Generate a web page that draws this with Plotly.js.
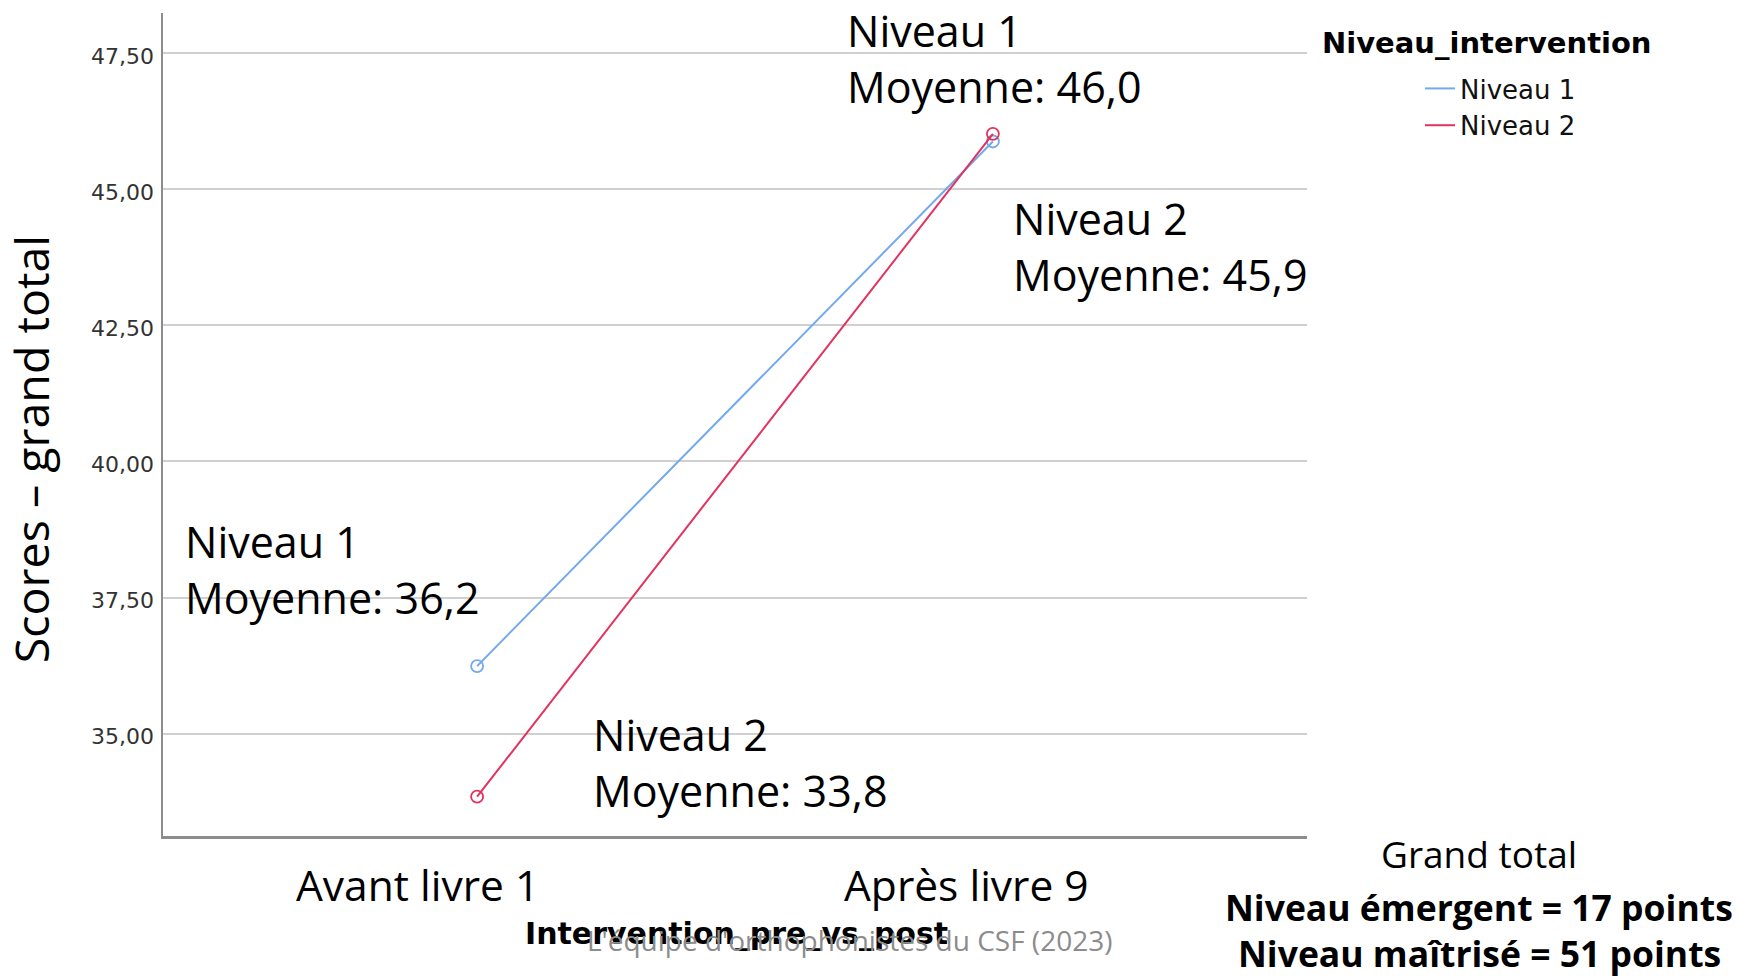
<!DOCTYPE html>
<html>
<head>
<meta charset="utf-8">
<script src="https://cdn.plot.ly/plotly-3.0.1.min.js"></script>
<style>html,body{margin:0;padding:0;background:#fff;}#chart{width:1738px;height:976px;}</style>
</head>
<body>
<div id="chart"></div>
<script>
// ---- data ----
const categories = ['Avant livre 1', 'Après livre 9'];
const seriesNames = ['Niveau 1', 'Niveau 2'];
const niveau1 = [36.24, 45.88];
const niveau2 = [33.84, 46.02];
const seriesColors = ['#72a9ef', '#e2325f'];
const yTickVals = [35, 37.5, 40, 42.5, 45, 47.5];
const yTickText = ['35,00', '37,50', '40,00', '42,50', '45,00', '47,50'];
const pointLabels = [
  'Niveau 1<br>Moyenne: 36,2',
  'Niveau 2<br>Moyenne: 33,8',
  'Niveau 1<br>Moyenne: 46,0',
  'Niveau 2<br>Moyenne: 45,9'
];
const yTitle = 'Scores – grand total';
const xTitle = 'Intervention_pre_vs_post';
const legendTitle = 'Niveau_intervention';
const credit = "L'équipe d'orthophonistes du CSF (2023)";
const noteLines = ['Grand total', 'Niveau émergent = 17 points', 'Niveau maîtrisé = 51 points'];

// ---- geometry helpers (pixel -> paper) ----
const W = 1738, H = 976;
const M = {l: 163, r: 431, t: 13, b: 140.3};
const PW = W - M.l - M.r, PH = H - M.t - M.b;
const px = x => (x - M.l) / PW;
const py = y => (H - M.b - y) / PH;

const CAL = 'Open Sans, Lato, sans-serif';
const SPSS = 'DejaVu Sans, Verdana, sans-serif';

const traces = [niveau1, niveau2].map((vals, i) => ({
  type: 'scatter',
  mode: 'lines+markers',
  name: seriesNames[i],
  x: categories,
  y: vals,
  showlegend: false,
  line: {color: seriesColors[i], width: 2},
  marker: {symbol: 'circle-open', size: 12, color: seriesColors[i], line: {width: 1.8, color: seriesColors[i]}},
  cliponaxis: false
}));
// legend entries (line only, as in the reference legend)
seriesNames.forEach((n, i) => traces.push({
  type: 'scatter', mode: 'lines', name: n, x: [null], y: [null],
  line: {color: seriesColors[i], width: 2}, showlegend: true
}));

const ann = [];
// value labels
const labelPos = [[182.5, 569], [590.5, 762], [844.5, 58], [1010.5, 246]];
pointLabels.forEach((t, i) => ann.push({
  text: t, xref: 'paper', yref: 'paper', x: px(labelPos[i][0]), y: py(labelPos[i][1]),
  xanchor: 'left', yanchor: 'middle', align: 'left', showarrow: false,
  font: {family: CAL, size: 43, color: '#000'}
}));
// category labels
const catShift = [-60, -26];
categories.forEach((c, i) => ann.push({
  text: c, xref: 'x', yref: 'paper', x: c, xshift: catShift[i], y: py(884),
  xanchor: 'center', yanchor: 'middle', showarrow: false,
  font: {family: CAL, size: 42.5, color: '#000'}
}));
// y title
ann.push({text: yTitle, xref: 'paper', yref: 'paper', x: px(31), y: py(449), textangle: -90,
  xanchor: 'center', yanchor: 'middle', showarrow: false, font: {family: CAL, size: 46.5, color: '#000'}});
// x title
ann.push({text: '<b>' + xTitle + '</b>', xref: 'paper', yref: 'paper', x: px(736), y: py(933),
  xanchor: 'center', yanchor: 'middle', showarrow: false, font: {family: SPSS, size: 30, color: '#000'}});
// credit
ann.push({text: credit, xref: 'paper', yref: 'paper', x: px(849), y: py(940),
  xanchor: 'center', yanchor: 'middle', showarrow: false, font: {family: CAL, size: 28, color: '#8c8c8c'}});
// legend title
ann.push({text: '<b>' + legendTitle + '</b>', xref: 'paper', yref: 'paper', x: px(1320), y: py(43),
  xanchor: 'left', yanchor: 'middle', showarrow: false, font: {family: SPSS, size: 29, color: '#000'}});
// note
const noteY = [853, 907, 953];
noteLines.forEach((t, i) => ann.push({
  text: i === 0 ? t : '<b>' + t + '</b>', xref: 'paper', yref: 'paper', x: px(1479), y: py(noteY[i]),
  xanchor: 'center', yanchor: 'middle', showarrow: false, font: {family: CAL, size: i === 0 ? 37 : 35.5, color: '#000'}
}));

const layout = {
  width: W, height: H,
  margin: M,
  paper_bgcolor: '#fff', plot_bgcolor: '#fff',
  showlegend: true,
  legend: {x: px(1420), y: py(65), xanchor: 'left', yanchor: 'top', bgcolor: 'rgba(0,0,0,0)',
    font: {family: SPSS, size: 26, color: '#111'}, tracegroupgap: 0},
  xaxis: {type: 'category', range: [-0.609, 1.609], showgrid: false, zeroline: false,
    showline: true, linecolor: '#8c8c8c', linewidth: 3, showticklabels: false, ticks: '', fixedrange: true},
  yaxis: {range: [33.118, 48.241], tickvals: yTickVals, ticktext: yTickText, showgrid: true,
    gridcolor: '#d0d0d0', gridwidth: 2, zeroline: false, showline: true, linecolor: '#8c8c8c', linewidth: 2.5,
    ticks: '', ticklabelstandoff: 2, ticklabelshift: 3, tickfont: {family: SPSS, size: 22, color: '#333'}},
  annotations: ann
};

Plotly.newPlot('chart', traces, layout, {displayModeBar: false, staticPlot: true});
</script>
</body>
</html>
